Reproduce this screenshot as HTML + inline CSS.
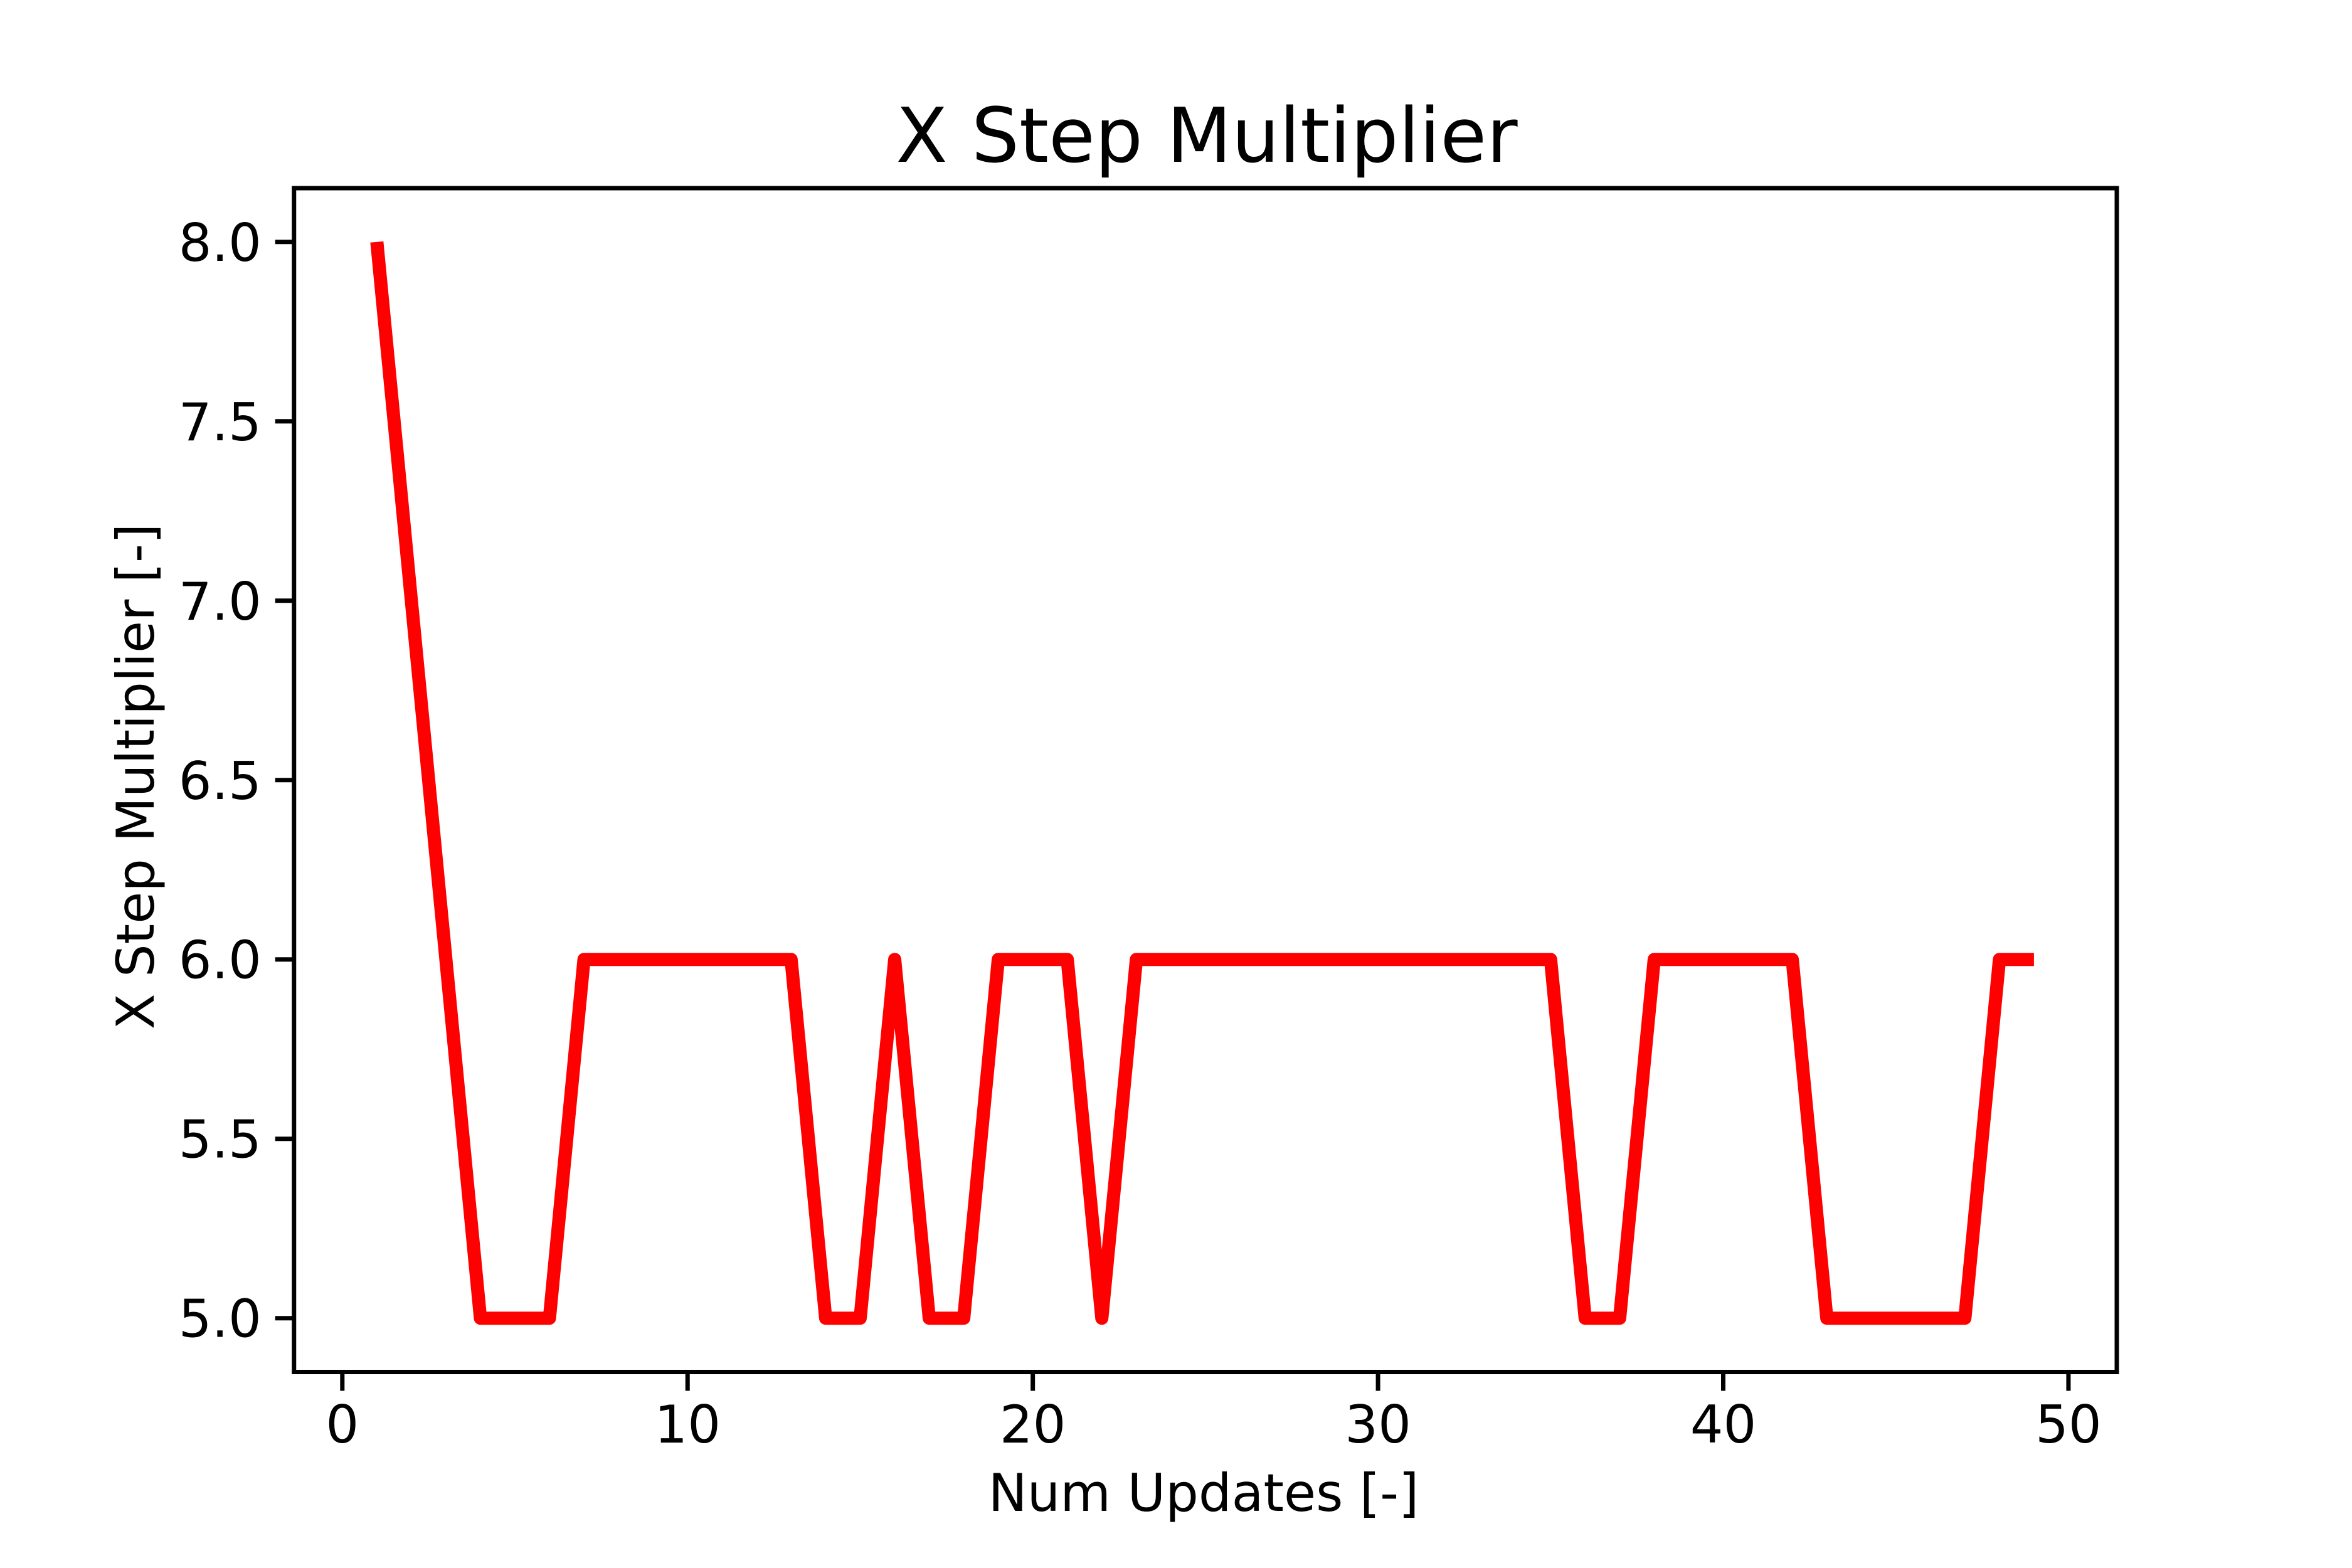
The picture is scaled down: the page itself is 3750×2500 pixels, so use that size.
<!DOCTYPE html>
<html><head><meta charset="utf-8"><style>
html,body{margin:0;padding:0;background:#fff;}
svg{display:block;font-family:"DejaVu Sans","Liberation Sans",sans-serif;}
</style></head><body>
<svg id="chart" width="3750" height="2500" viewBox="0 0 3750 2500" xmlns="http://www.w3.org/2000/svg">
<rect width="3750" height="2500" fill="#fff"/>
<text x="1924" y="258" font-size="120" text-anchor="middle">X Step Multiplier</text>
<text x="1919" y="2409" font-size="83" text-anchor="middle">Num Updates [-]</text>
<text transform="translate(245,1238) rotate(-90)" font-size="83" text-anchor="middle">X Step Multiplier [-]</text>
<g id="ticks"></g>
<g id="plot"></g>
<rect x="468.75" y="300" width="2906.25" height="1887.5" fill="none" stroke="#000" stroke-width="7"/>
</svg>
<script>
const xValues = [1,2,3,4,5,6,7,8,9,10,11,12,13,14,15,16,17,18,19,20,21,22,23,24,25,26,27,28,29,30,31,32,33,34,35,36,37,38,39,40,41,42,43,44,45,46,47,48,49];
const yValues = [8,7,6,5,5,5,6,6,6,6,6,6,6,5,5,6,5,5,6,6,6,5,6,6,6,6,6,6,6,6,6,6,6,6,6,5,5,6,6,6,6,6,5,5,5,5,5,6,6];
const xTicks = [0,10,20,30,40,50];
const yTicks = [5.0,5.5,6.0,6.5,7.0,7.5,8.0];
const yTickLabels = ["5.0","5.5","6.0","6.5","7.0","7.5","8.0"];

const L=468.75,R=3375,T=300,B=2187.5;
const xMin=-1.4,xMax=51.4,yMin=4.85,yMax=8.15;
function sx(v){return L+(v-xMin)/(xMax-xMin)*(R-L);}
function sy(v){return B-(v-yMin)/(yMax-yMin)*(B-T);}
const NS="http://www.w3.org/2000/svg";
const tg=document.getElementById('ticks');
xTicks.forEach(t=>{
  const l=document.createElementNS(NS,'line');
  l.setAttribute('x1',sx(t));l.setAttribute('x2',sx(t));l.setAttribute('y1',B);l.setAttribute('y2',B+30);
  l.setAttribute('stroke','#000');l.setAttribute('stroke-width','7');
  
  
  tg.appendChild(l);
  const tx=document.createElementNS(NS,'text');
  tx.setAttribute('x',sx(t));tx.setAttribute('y',2300);tx.setAttribute('font-size','83');tx.setAttribute('text-anchor','middle');
  tx.textContent=String(t);
  
  
  tg.appendChild(tx);
});
yTicks.forEach((t,i)=>{
  const l=document.createElementNS(NS,'line');
  l.setAttribute('x1',L-30);l.setAttribute('x2',L);l.setAttribute('y1',sy(t));l.setAttribute('y2',sy(t));
  l.setAttribute('stroke','#000');l.setAttribute('stroke-width','7');
  
  
  tg.appendChild(l);
  const tx=document.createElementNS(NS,'text');
  tx.setAttribute('x',L-52);tx.setAttribute('y',sy(t)+30);tx.setAttribute('font-size','83');tx.setAttribute('text-anchor','end');
  tx.textContent=yTickLabels[i];
  
  
  tg.appendChild(tx);
});
const pg=document.getElementById('plot');
const p=document.createElementNS(NS,'polyline');
p.setAttribute('points',xValues.map((x,i)=>sx(x)+','+sy(yValues[i])).join(' '));
p.setAttribute('fill','none');p.setAttribute('stroke','#ff0000');p.setAttribute('stroke-width','21');
p.setAttribute('stroke-linejoin','round');


pg.appendChild(p);
</script>
</body></html>
